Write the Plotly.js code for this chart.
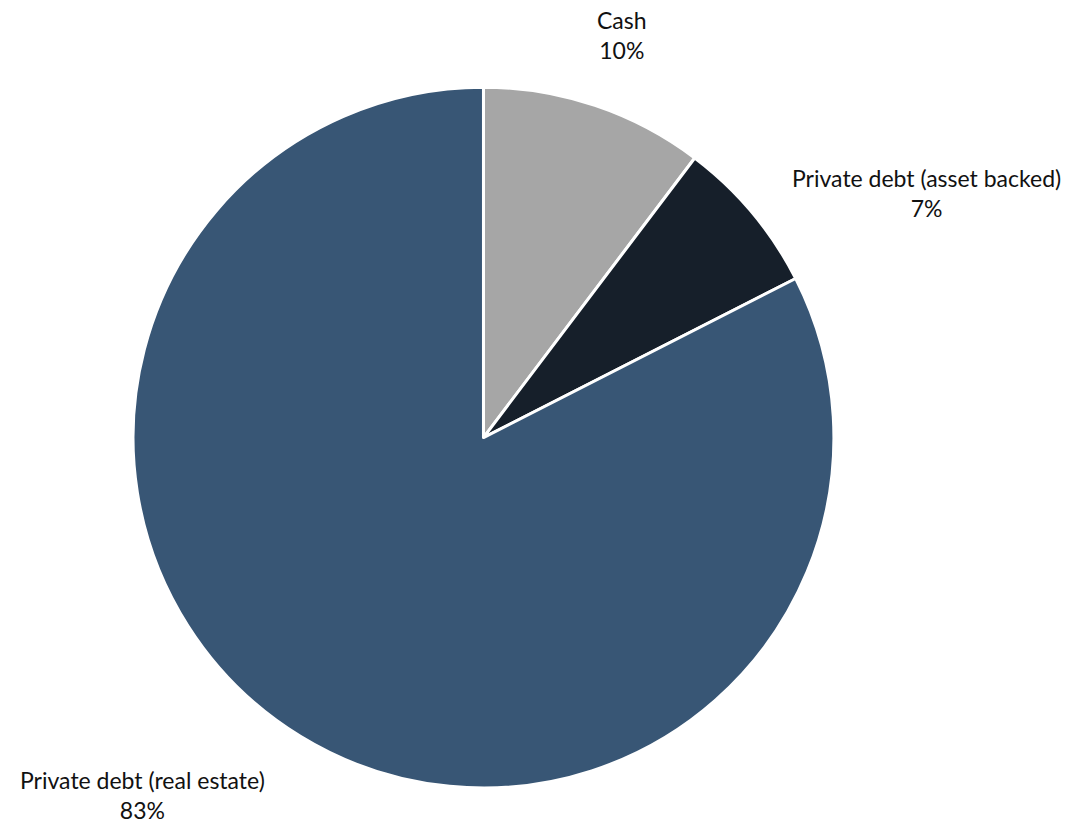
<!DOCTYPE html>
<html>
<head>
<meta charset="utf-8">
<script src="https://cdn.plot.ly/plotly-3.0.1.min.js"></script>
<style>html,body{margin:0;padding:0;background:#fff;}#chart{width:1072px;height:830px;}</style>
</head>
<body>
<div id="chart"></div>
<script>
const categories = ['Cash', 'Private debt (asset backed)', 'Private debt (real estate)'];
const shares = [10.3, 7.2, 82.5];
const shareLabels = ['10%', '7%', '83%'];
const colors = ['#a6a6a6', '#161f2a', '#385675'];

const labelPos = [
  {x: 0.580, y: 0.958},
  {x: 0.864, y: 0.767},
  {x: 0.133, y: 0.042}
];

const annotations = categories.map((c, i) => ({
  text: c + '<br>' + shareLabels[i],
  x: labelPos[i].x, y: labelPos[i].y,
  xref: 'paper', yref: 'paper',
  xanchor: 'center', yanchor: 'middle',
  showarrow: false, align: 'center',
  font: {family: 'Lato, "Open Sans", sans-serif', size: 23, color: '#111'}
}));

const data = [{
  type: 'pie',
  labels: categories,
  values: shares,
  sort: false,
  direction: 'clockwise',
  rotation: 0,
  textinfo: 'none',
  hoverinfo: 'label+percent',
  marker: {colors: colors, line: {color: '#ffffff', width: 3}},
  domain: {x: [0.124, 0.778], y: [0.0506, 0.895]}
}];

const layout = {
  width: 1072, height: 830,
  margin: {l: 0, r: 0, t: 0, b: 0},
  showlegend: false,
  paper_bgcolor: '#ffffff',
  annotations: annotations
};

Plotly.newPlot('chart', data, layout, {displayModeBar: false, staticPlot: true});
</script>
</body>
</html>
